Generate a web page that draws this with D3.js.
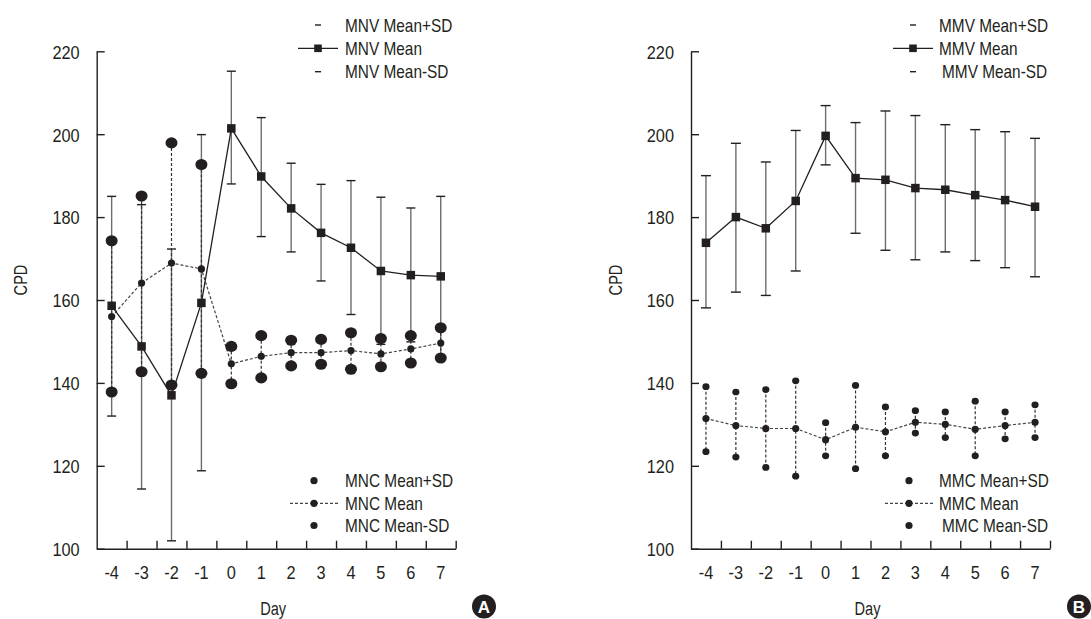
<!DOCTYPE html>
<html>
<head>
<meta charset="utf-8">
<script src="https://cdn.jsdelivr.net/npm/d3@7/dist/d3.min.js"></script>
<style>
  html, body { margin: 0; padding: 0; background: #fff; }
  svg { display: block; }
  text { font-family: 'Liberation Sans', Arial, sans-serif; fill: #231f20; }
</style>
</head>
<body>
<svg id="chart" width="1091" height="619"></svg>
<script>
// ---------- data ----------
const days = ["-4", "-3", "-2", "-1", "0", "1", "2", "3", "4", "5", "6", "7"];
const yTicks = [100, 120, 140, 160, 180, 200, 220];

// Panel A
const mnvMean  = [158.6, 148.8, 137.0, 159.3, 201.4, 189.8, 182.1, 176.2, 172.6, 167.0, 166.0, 165.7];
const mnvUpper = [185.0, 183.0, 172.3, 199.9, 215.2, 204.0, 193.0, 187.9, 188.8, 184.8, 182.2, 185.0];
const mnvLower = [132.0, 114.4, 101.9, 118.8, 188.0, 175.3, 171.6, 164.6, 156.5, 149.3, 149.9, 146.4];
const mncMean  = [156.0, 164.1, 168.9, 167.5, 144.6, 146.4, 147.3, 147.3, 147.8, 147.0, 148.2, 149.6];
const mncUpper = [174.3, 185.1, 197.9, 192.7, 148.8, 151.4, 150.3, 150.5, 152.1, 150.7, 151.4, 153.3];
const mncLower = [137.8, 142.7, 139.5, 142.3, 139.8, 141.2, 144.1, 144.5, 143.3, 143.9, 144.8, 146.0];

// Panel B
const mmvMean  = [173.8, 180.0, 177.3, 183.9, 199.6, 189.4, 189.0, 187.0, 186.6, 185.3, 184.1, 182.5];
const mmvUpper = [190.0, 197.8, 193.3, 200.9, 206.9, 202.8, 205.6, 204.5, 202.3, 201.1, 200.6, 199.0];
const mmvLower = [158.1, 161.9, 161.1, 167.0, 192.6, 176.1, 172.0, 169.7, 171.6, 169.5, 167.8, 165.6];
const mmcMean  = [131.4, 129.7, 129.0, 129.0, 126.3, 129.3, 128.2, 130.5, 130.0, 128.8, 129.7, 130.5];
const mmcUpper = [139.1, 137.8, 138.4, 140.5, 130.4, 139.4, 134.2, 133.3, 133.0, 135.6, 133.0, 134.7];
const mmcLower = [123.4, 122.1, 119.6, 117.5, 122.4, 119.3, 122.4, 127.9, 126.8, 122.4, 126.5, 126.8];

const legendA_top = ["MNV Mean+SD", "MNV Mean", "MNV Mean-SD"];
const legendA_bot = ["MNC Mean+SD", "MNC Mean", "MNC Mean-SD"];
const legendB_top = ["MMV Mean+SD", "MMV Mean", " MMV Mean-SD"];
const legendB_bot = ["MMC Mean+SD", "MMC Mean", " MMC Mean-SD"];

// ---------- drawing ----------
const svg = d3.select("#chart");
const plotW = 359, yTop = 51.3, yBot = 548.7;
const y = d3.scaleLinear().domain([100, 220]).range([yBot, yTop]);

// make text look condensed (no narrow face installed)
function condense(sel, f) {
  sel.each(function () {
    const w = this.getComputedTextLength();
    if (w > 0) {
      this.setAttribute("textLength", (w * f).toFixed(2));
      this.setAttribute("lengthAdjust", "spacingAndGlyphs");
    }
  });
}
const NUM = 0.86, WORD = 0.81;

function panel(cfg) {
  const x0 = cfg.x0;
  const g = svg.append("g");
  const x = d3.scaleBand().domain(days).range([x0, x0 + plotW]);
  const xb = d3.scaleLinear().domain([0, days.length]).range([x0, x0 + plotW]);
  const cx = d => x(d) + x.bandwidth() / 2;

  // y axis
  const ya = g.append("g").attr("transform", `translate(${x0},0)`)
    .call(d3.axisLeft(y).tickValues(yTicks).tickSizeInner(-8).tickSizeOuter(0).tickPadding(17));
  ya.attr("font-family", null).attr("font-size", null);
  ya.selectAll("text").style("font-size", "19px").attr("dy", "0.36em").call(condense, NUM);
  ya.selectAll("path,line").attr("stroke", "#231f20").attr("stroke-width", 1.4);

  // x axis boundary ticks
  const xa = g.append("g").attr("transform", `translate(0,${yBot})`)
    .call(d3.axisBottom(xb).tickValues(d3.range(1, days.length + 1)).tickSizeInner(-8).tickSizeOuter(0).tickFormat(""));
  xa.selectAll("path,line").attr("stroke", "#231f20").attr("stroke-width", 1.4);
  // x labels
  const xl = g.append("g").attr("transform", `translate(0,${yBot})`)
    .call(d3.axisBottom(x).tickSize(0).tickPadding(17));
  xl.attr("font-family", null).attr("font-size", null);
  xl.select(".domain").remove();
  xl.selectAll("text").style("font-size", "19px").call(condense, NUM);

  // axis titles
  g.append("text").attr("x", x0 + plotW / 2 - 3).attr("y", 615).attr("text-anchor", "middle")
    .style("font-size", "18px").text("Day").call(condense, WORD);
  g.append("text").attr("transform", `translate(${cfg.cpdX},280) rotate(-90)`).attr("text-anchor", "middle")
    .attr("dy", "0.35em").style("font-size", "18px").text("CPD").call(condense, WORD);

  // V error bars (solid)
  const capW = cfg.capW;
  const eb = g.append("g");
  days.forEach((d, i) => {
    eb.append("line").attr("x1", cx(d)).attr("x2", cx(d))
      .attr("y1", y(cfg.vUp[i])).attr("y2", y(cfg.vLo[i]))
      .attr("stroke", "#6d6d6d").attr("stroke-width", 1.4);
    [cfg.vUp[i], cfg.vLo[i]].forEach(v => {
      eb.append("line").attr("x1", cx(d) - capW / 2).attr("x2", cx(d) + capW / 2)
        .attr("y1", y(v)).attr("y2", y(v)).attr("stroke", "#231f20").attr("stroke-width", 1.4);
    });
  });
  // C error bars (dashed)
  days.forEach((d, i) => {
    g.append("line").attr("x1", cx(d)).attr("x2", cx(d))
      .attr("y1", y(cfg.cUp[i])).attr("y2", y(cfg.cLo[i]))
      .attr("stroke", "#333").attr("stroke-width", 1.2).attr("stroke-dasharray", "3,2");
  });

  // C mean line
  const line = d3.line().x((v, i) => cx(days[i])).y(v => y(v));
  g.append("path").attr("d", line(cfg.cMean)).attr("fill", "none")
    .attr("stroke", "#444").attr("stroke-width", 1.2).attr("stroke-dasharray", "3,2");
  // V mean line
  g.append("path").attr("d", line(cfg.vMean)).attr("fill", "none")
    .attr("stroke", "#231f20").attr("stroke-width", 1.3);

  // C dots
  [cfg.cUp, cfg.cLo].forEach(arr => {
    g.selectAll(null).data(arr).enter().append("ellipse")
      .attr("cx", (v, i) => cx(days[i])).attr("cy", v => y(v))
      .attr("rx", cfg.sdR).attr("ry", cfg.sdR * 0.93).attr("fill", "#231f20");
  });
  g.selectAll(null).data(cfg.cMean).enter().append("circle")
    .attr("cx", (v, i) => cx(days[i])).attr("cy", v => y(v))
    .attr("r", 3.6).attr("fill", "#231f20");
  // V squares
  const s = 8.5;
  g.selectAll(null).data(cfg.vMean).enter().append("rect")
    .attr("x", (v, i) => cx(days[i]) - s / 2).attr("y", v => y(v) - s / 2)
    .attr("width", s).attr("height", s).attr("fill", "#231f20");

  // legends
  const lt = cfg.legTop, lb = cfg.legBot, lx = cfg.legX, sx = cfg.symX;
  const topY = [25, 48.3, 71.7], botY = [480.7, 503.3, 525.5];
  lt.forEach((t, i) => {
    g.append("text").attr("x", lx + (t.startsWith(" ") ? 3 : 0)).attr("y", topY[i]).attr("dy", "0.35em")
      .style("font-size", "19px").text(t.trim()).call(condense, WORD);
  });
  lb.forEach((t, i) => {
    g.append("text").attr("x", lx + (t.startsWith(" ") ? 3 : 0)).attr("y", botY[i]).attr("dy", "0.35em")
      .style("font-size", "19px").text(t.trim()).call(condense, WORD);
  });
  // top symbols
  [topY[0], topY[2]].forEach(yy => {
    g.append("line").attr("x1", sx - 3).attr("x2", sx + 3).attr("y1", yy).attr("y2", yy)
      .attr("stroke", "#231f20").attr("stroke-width", 1.4);
  });
  g.append("line").attr("x1", sx - 20).attr("x2", sx + 20).attr("y1", topY[1]).attr("y2", topY[1])
    .attr("stroke", "#231f20").attr("stroke-width", 1.3);
  g.append("rect").attr("x", sx - 3.8).attr("y", topY[1] - 3.8).attr("width", 7.6).attr("height", 7.6).attr("fill", "#231f20");
  // bottom symbols
  [botY[0], botY[2]].forEach(yy => {
    g.append("circle").attr("cx", sx - 4).attr("cy", yy).attr("r", 3.6).attr("fill", "#231f20");
  });
  g.append("line").attr("x1", sx - 28).attr("x2", sx + 20).attr("y1", botY[1]).attr("y2", botY[1])
    .attr("stroke", "#444").attr("stroke-width", 1.2).attr("stroke-dasharray", "3,2");
  g.append("circle").attr("cx", sx - 4).attr("cy", botY[1]).attr("r", 3.6).attr("fill", "#231f20");

  // panel letter
  g.append("circle").attr("cx", cfg.letterX).attr("cy", 606.5).attr("r", 12).attr("fill", "#231f20");
  g.append("text").attr("x", cfg.letterX).attr("y", 606.5).attr("dy", "0.36em").attr("text-anchor", "middle")
    .style("font-weight", "bold").style("font-size", "17px").style("fill", "#fff").text(cfg.letter);
}

panel({
  x0: 96.7, cpdX: 21, capW: 9,
  vMean: mnvMean, vUp: mnvUpper, vLo: mnvLower,
  cMean: mncMean, cUp: mncUpper, cLo: mncLower, sdR: 6,
  legTop: legendA_top, legBot: legendA_bot, legX: 345, symX: 318,
  letter: "A", letterX: 484
});
panel({
  x0: 691, cpdX: 615.5, capW: 10,
  vMean: mmvMean, vUp: mmvUpper, vLo: mmvLower,
  cMean: mmcMean, cUp: mmcUpper, cLo: mmcLower, sdR: 3.6,
  legTop: legendB_top, legBot: legendB_bot, legX: 939, symX: 913,
  letter: "B", letterX: 1079
});
</script>
</body>
</html>
